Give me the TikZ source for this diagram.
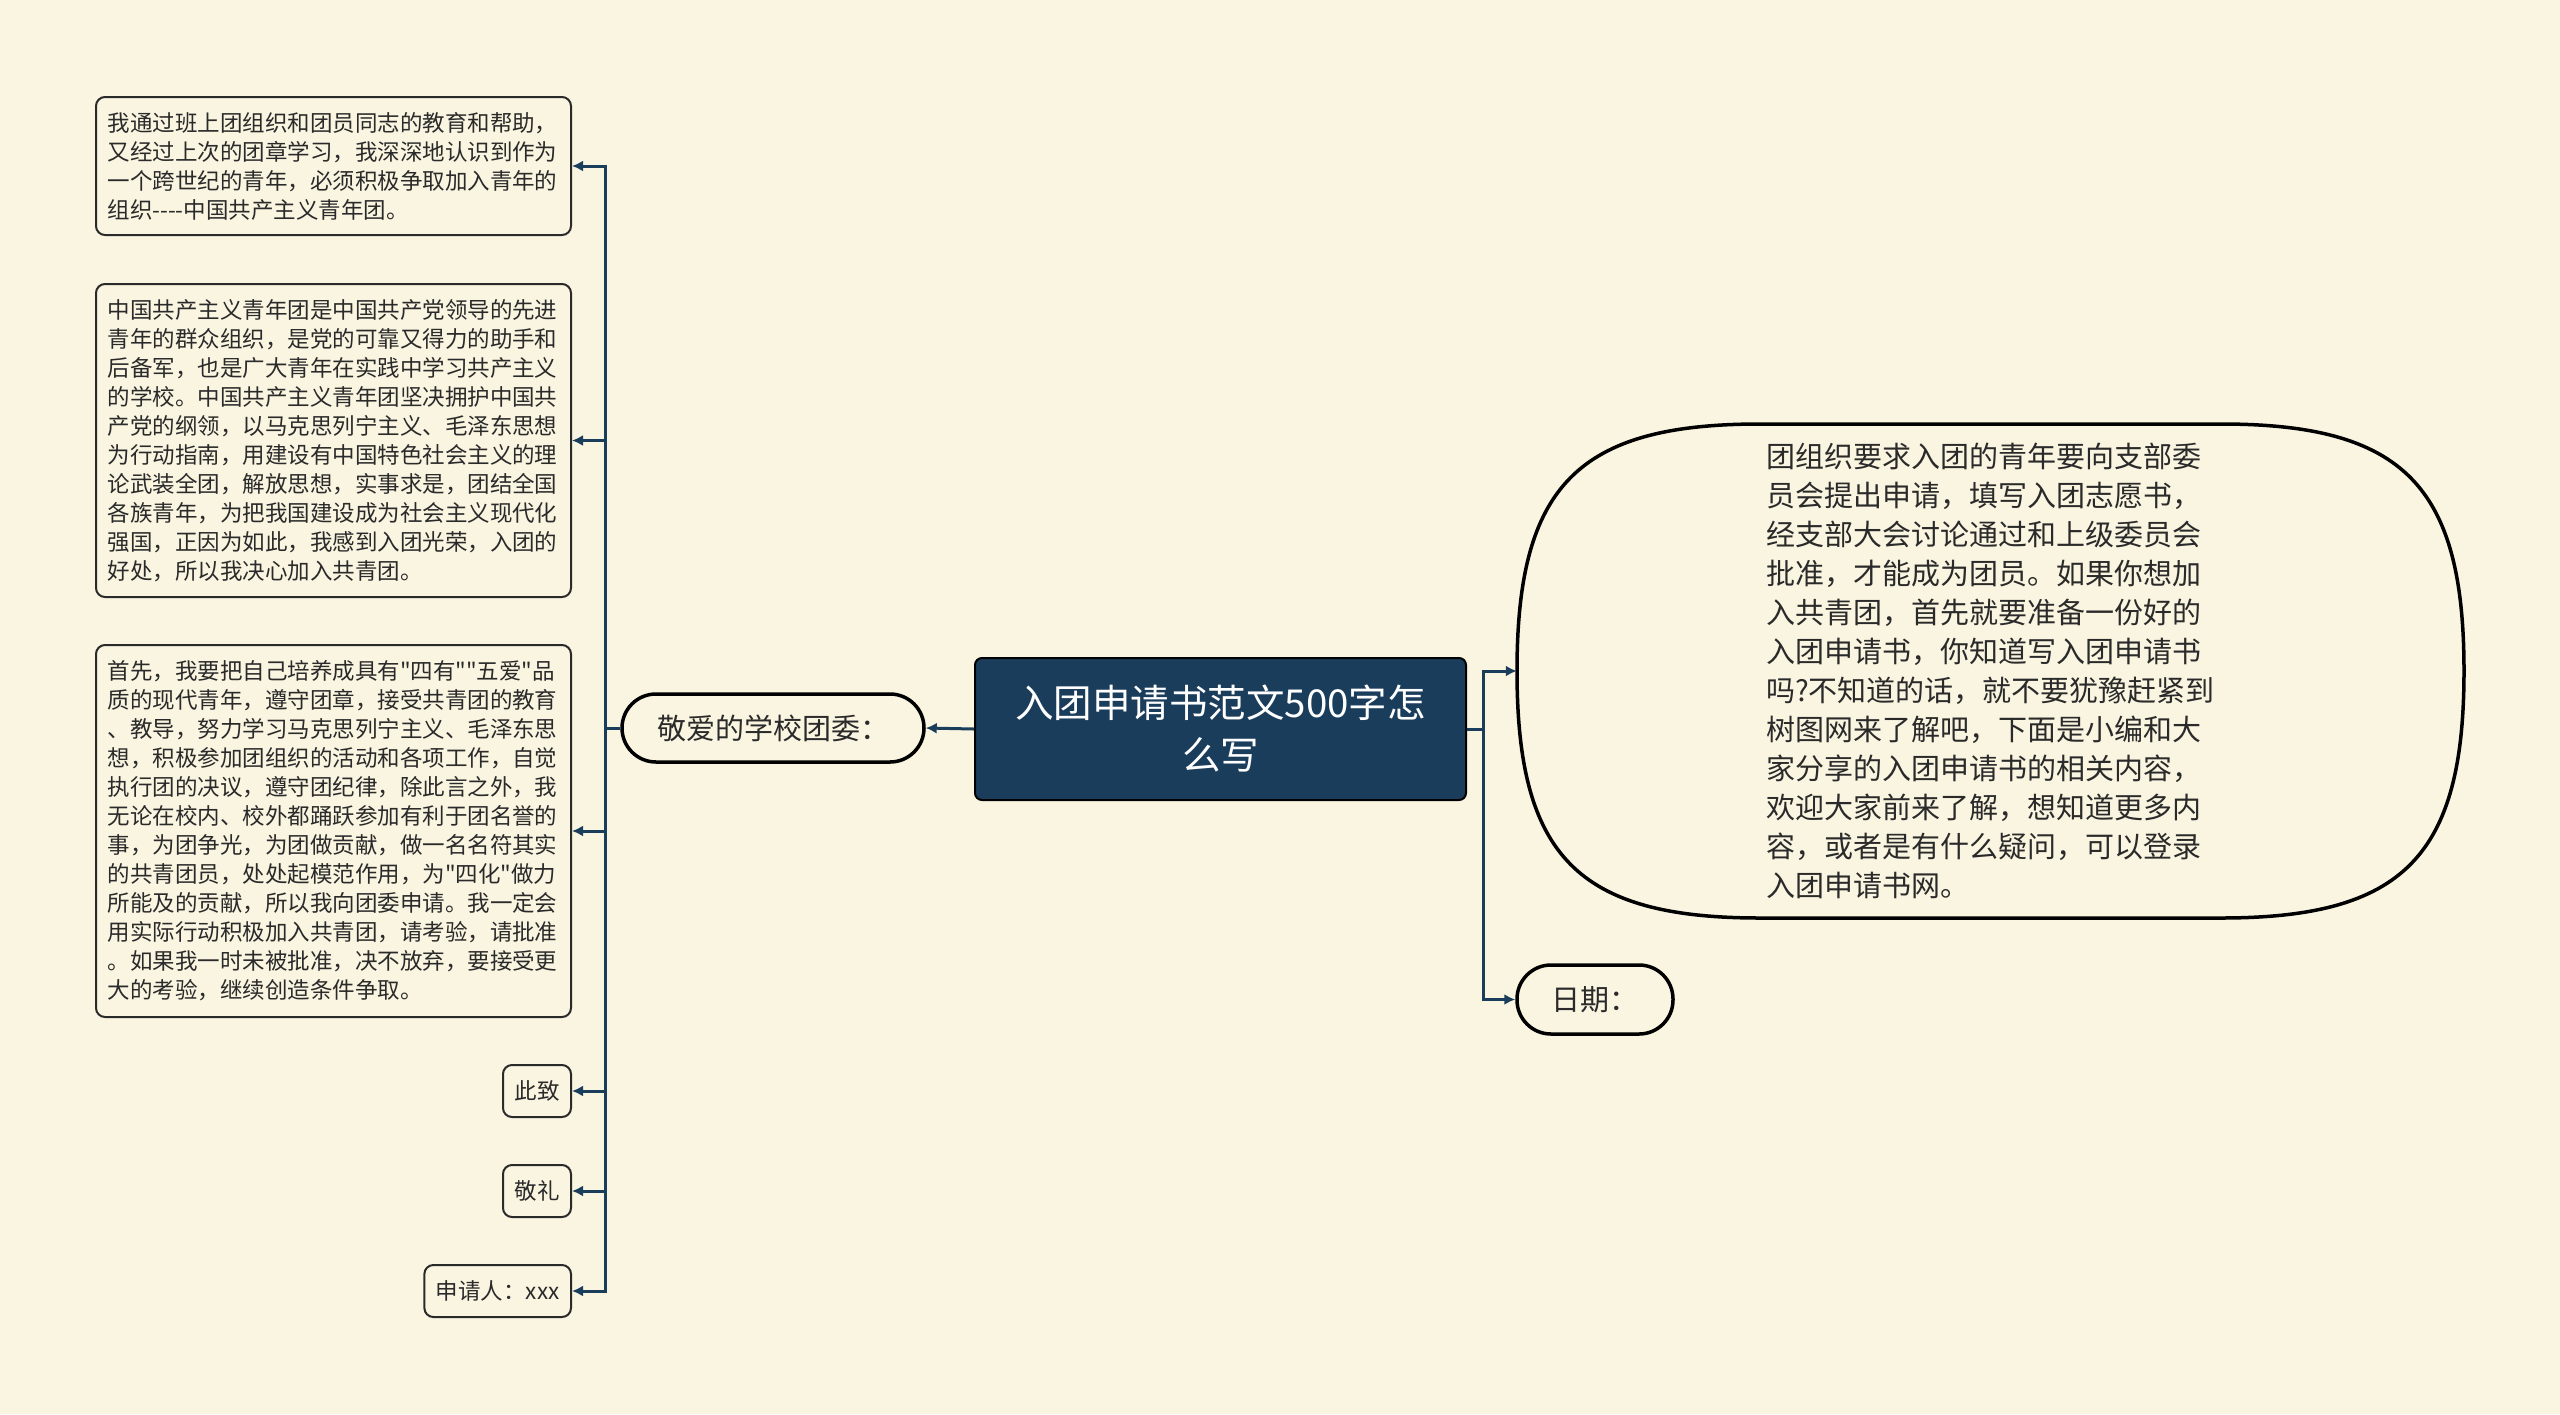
\documentclass[tikz,border=0pt]{standalone}
\usepackage{fontspec}
\newfontfamily\cjk{Noto Sans CJK SC}
\usetikzlibrary{arrows.meta}
\definecolor{bg}{HTML}{FAF5E1}
\definecolor{navy}{HTML}{1B3D5C}
\definecolor{ink}{HTML}{2A2A2A}
\begin{document}
\begin{tikzpicture}[x=1pt,y=-1pt,
  conn/.style={draw=navy,line width=3pt},
  arr/.style={conn,-{Latex[length=11pt,width=11pt]}},
  leaf/.style={draw=ink,line width=2pt,fill=bg,rounded corners=9pt,
    font={\cjk\fontsize{22.5pt}{29pt}\selectfont},text=ink,align=left,
    inner xsep=11.5pt,inner ysep=4pt,anchor=east},
  pill/.style={draw=black,line width=3.5pt,rounded corners=34pt,fill=bg,
    font={\cjk\fontsize{29pt}{39pt}\selectfont},text=ink,inner sep=0pt}
]
\fill[bg] (0,0) rectangle (2560,1414);

% root
\node[draw=black,line width=2pt,fill=navy,rounded corners=7pt,
  minimum width=491pt,minimum height=142pt,inner sep=0pt,text=white,
  font={\cjk\fontsize{38.5pt}{52pt}\selectfont},align=center]
  (root) at (1220.5,729) {入团申请书范文500字怎\\么写};

% left branch
\node[pill,minimum width=302pt,minimum height=68pt] (dear) at (773,728) {敬爱的学校团委：};

\node[leaf,text width=452pt,minimum height=138pt] (b1) at (572,166)
 {我通过班上团组织和团员同志的教育和帮助，\\
  又经过上次的团章学习，我深深地认识到作为\\
  一个跨世纪的青年，必须积极争取加入青年的\\
  组织----中国共产主义青年团。};

\node[leaf,text width=452pt,minimum height=313pt] (b2) at (572,440.5)
 {中国共产主义青年团是中国共产党领导的先进\\
  青年的群众组织，是党的可靠又得力的助手和\\
  后备军，也是广大青年在实践中学习共产主义\\
  的学校。中国共产主义青年团坚决拥护中国共\\
  产党的纲领，以马克思列宁主义、毛泽东思想\\
  为行动指南，用建设有中国特色社会主义的理\\
  论武装全团，解放思想，实事求是，团结全国\\
  各族青年，为把我国建设成为社会主义现代化\\
  强国，正因为如此，我感到入团光荣，入团的\\
  好处，所以我决心加入共青团。};

\node[leaf,text width=452pt,minimum height=372pt] (b3) at (572,831)
 {首先，我要把自己培养成具有"四有""五爱"品\\
  质的现代青年，遵守团章，接受共青团的教育\\
  、教导，努力学习马克思列宁主义、毛泽东思\\
  想，积极参加团组织的活动和各项工作，自觉\\
  执行团的决议，遵守团纪律，除此言之外，我\\
  无论在校内、校外都踊跃参加有利于团名誉的\\
  事，为团争光，为团做贡献，做一名名符其实\\
  的共青团员，处处起模范作用，为"四化"做力\\
  所能及的贡献，所以我向团委申请。我一定会\\
  用实际行动积极加入共青团，请考验，请批准\\
  。如果我一时未被批准，决不放弃，要接受更\\
  大的考验，继续创造条件争取。};

\node[leaf,minimum height=52pt] (s1) at (572,1091) {此致};
\node[leaf,minimum height=52pt] (s2) at (572,1191) {敬礼};
\node[leaf,minimum height=52pt] (s3) at (572,1291) {申请人：xxx};

% right branch
\filldraw[fill=bg,draw=black,line width=3.5pt]
  (1760,424) -- (2221,424)
  .. controls (2403.25,424) and (2464,485.75) .. (2464,671)
  .. controls (2464,856.25) and (2403.25,918) .. (2221,918)
  -- (1760,918)
  .. controls (1577.75,918) and (1517,856.25) .. (1517,671)
  .. controls (1517,485.75) and (1577.75,424) .. cycle;
\node[minimum width=947pt,minimum height=494pt,inner sep=0pt,text=ink,
  text width=449pt,align=left,font={\cjk\fontsize{29pt}{39pt}\selectfont}]
  (intro) at (1990.5,671)
 {团组织要求入团的青年要向支部委\\
  员会提出申请，填写入团志愿书，\\
  经支部大会讨论通过和上级委员会\\
  批准，才能成为团员。如果你想加\\
  入共青团，首先就要准备一份好的\\
  入团申请书，你知道写入团申请书\\
  吗?不知道的话，就不要犹豫赶紧到\\
  树图网来了解吧，下面是小编和大\\
  家分享的入团申请书的相关内容，\\
  欢迎大家前来了解，想知道更多内\\
  容，或者是有什么疑问，可以登录\\
  入团申请书网。};

\node[pill,minimum width=156pt,minimum height=69pt] (date) at (1595,999.5) {日期：};

% connectors
\coordinate (lj) at (605,728);
\coordinate (rj) at (1483,729);
\draw[arr] (root.west) -- (dear.east);
\draw[conn] (dear.west) -- (lj);
\foreach \n in {b1,b2,b3,s1,s2,s3} \draw[arr] (lj) |- (\n.east);
\draw[conn] (root.east) -- (rj);
\draw[arr] (rj) |- (intro.west);
\draw[arr] (rj) |- (date.west);
\end{tikzpicture}
\end{document}
